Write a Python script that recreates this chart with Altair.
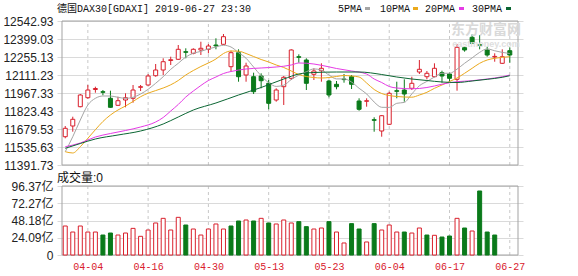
import altair as alt
import pandas as pd

# ---------------- data ----------------
dates = ["04-01", "04-02", "04-03", "04-04", "04-05", "04-08", "04-09", "04-10", "04-11", "04-12",
         "04-15", "04-16", "04-17", "04-18", "04-23", "04-24", "04-25", "04-26", "04-29", "04-30",
         "05-02", "05-03", "05-06", "05-07", "05-08", "05-09", "05-10", "05-13", "05-14", "05-15",
         "05-16", "05-17", "05-20", "05-21", "05-22", "05-23", "05-24", "05-27", "05-28", "05-29",
         "05-30", "05-31", "06-03", "06-04", "06-05", "06-06", "06-07", "06-11", "06-12", "06-13",
         "06-14", "06-17", "06-18", "06-19", "06-20", "06-21", "06-24", "06-25", "06-26", "06-27"]

open_ = [11618.0, 11703.5, 11857.8, 11929.7, 11995.3, 11977.7, 11924.9, 11869.0, 11911.3, 11924.9,
         12012.9, 12031.3, 12105.6, 12151.2, 12227.1, 12236.7, 12297.5, 12284.7, 12311.1, 12316.7,
         12351.0, 12356.6, 12177.6, 12289.5, 12111.2, 12097.6, 12103.2, 12044.9, 11911.3, 12017.7,
         12084.8, 12257.5, 12231.1, 12116.8, 12145.6, 12063.2, 12036.9, 12079.2, 12097.6, 11903.4,
         11901.0, 11753.9, 11663.5, 11717.1, 11985.7, 11991.3, 12004.9, 12135.2, 12097.6, 12097.6,
         12129.6, 12119.2, 12076.8, 12329.5, 12412.6, 12353.4, 12311.1, 12255.1, 12204.7, 12305.5]
high_ = [11703.5, 11777.8, 11959.3, 12031.3, 12017.7, 11991.3, 11985.7, 11937.7, 11964.9, 12031.3,
         12031.3, 12119.2, 12199.1, 12244.7, 12257.5, 12351.0, 12324.7, 12324.7, 12377.4, 12359.0,
         12404.6, 12439.0, 12305.5, 12316.7, 12209.5, 12129.6, 12124.8, 12071.2, 12004.9, 12103.2,
         12316.7, 12276.7, 12244.7, 12164.8, 12204.7, 12071.2, 12063.2, 12119.2, 12111.2, 11924.9,
         11924.9, 11773.0, 11791.4, 11977.7, 12057.6, 12076.8, 12097.6, 12231.1, 12143.2, 12204.7,
         12145.6, 12129.6, 12359.0, 12343.0, 12436.6, 12431.0, 12337.5, 12284.7, 12316.7, 12332.6]
low_ = [11605.2, 11657.9, 11853.0, 11921.7, 11969.7, 11948.9, 11850.0, 11863.4, 11853.0, 11889.8,
        11983.3, 12025.7, 12097.6, 12111.2, 12191.2, 12231.1, 12244.7, 12276.7, 12271.1, 12284.7,
        12316.7, 12351.0, 12137.6, 12057.6, 12057.6, 11959.3, 12004.9, 11837.0, 11897.8, 11871.4,
        12071.2, 12209.5, 11991.3, 12071.2, 12057.6, 11932.9, 11996.9, 12049.7, 11999.3, 11825.8,
        11857.8, 11657.9, 11618.0, 11711.5, 11924.9, 11897.8, 11991.3, 12119.2, 12076.8, 12092.8,
        12049.7, 12057.6, 11985.7, 12297.5, 12359.0, 12316.7, 12257.5, 12217.5, 12199.1, 12209.5]
close_ = [11685.1, 11757.1, 11951.3, 11991.3, 12003.3, 11972.9, 11853.0, 11905.7, 11929.7, 11991.3,
          12017.7, 12103.2, 12151.2, 12217.5, 12233.5, 12316.7, 12292.7, 12316.7, 12324.7, 12343.0,
          12344.0, 12417.4, 12289.5, 12097.6, 12183.2, 11977.7, 12065.6, 11885.0, 11991.3, 12092.8,
          12311.1, 12252.7, 12044.9, 12143.2, 12164.8, 11951.3, 12017.7, 12074.4, 12036.9, 11837.0,
          11905.7, 11749.1, 11785.8, 11964.9, 11980.9, 11959.3, 12044.9, 12156.8, 12124.8, 12164.8,
          12103.2, 12084.8, 12332.6, 12311.1, 12364.6, 12348.6, 12271.1, 12259.9, 12257.5, 12271.1]

# turnover in 亿 (no figures for the last two sessions)
volume = [40.5, 32.1, 40.5, 32.1, 32.1, 27.9, 30.7, 27.9, 30.7, 37.2,
          26.1, 34.9, 44.7, 51.2, 34.9, 52.6, 41.9, 36.3, 27.9, 36.3,
          43.3, 36.3, 40.5, 47.5, 48.9, 47.5, 51.2, 44.7, 43.3, 48.9,
          44.7, 46.6, 39.6, 36.3, 37.7, 46.6, 32.1, 16.8, 43.8, 36.3,
          18.2, 43.8, 34.9, 41.9, 32.1, 32.1, 30.7, 37.7, 27.9, 27.5,
          25.1, 26.5, 51.2, 37.7, 33.5, 89.4, 32.1, 27.9]

ma5_idx = list(range(60))
ma5 = [11498.0, 11618.0, 11751.5, 11871.4, 11924.9, 11943.3, 11943.3, 11932.9, 11924.9, 11932.9,
       11959.3, 11996.9, 12044.9, 12097.6, 12156.8, 12204.7, 12255.1, 12285.0, 12300.0, 12320.0,
       12335.0, 12349.0, 12335.0, 12290.0, 12245.0, 12175.0, 12105.0, 12050.0, 12020.0, 12030.0,
       12075.0, 12110.0, 12137.0, 12160.0, 12150.0, 12111.0, 12080.0, 12080.0, 12055.0, 12005.0,
       11960.0, 11895.0, 11853.0, 11852.0, 11885.0, 11892.0, 11960.0, 12025.0, 12060.0, 12095.0,
       12125.0, 12125.0, 12158.0, 12205.0, 12248.0, 12292.0, 12320.0, 12305.0, 12292.0, 12283.0]
ma10_idx = list(range(60))
ma10 = [11498.0, 11487.7, 11538.0, 11605.2, 11673.9, 11739.5, 11791.4, 11831.4, 11863.4, 11899.4,
        11937.7, 11965.7, 11986.5, 12007.3, 12032.9, 12067.2, 12111.2, 12147.2, 12179.2, 12207.2,
        12239.1, 12283.1, 12303.1, 12301.5, 12283.1, 12259.1, 12235.1, 12215.2, 12191.2, 12171.2,
        12143.2, 12115.2, 12099.2, 12091.2, 12087.2, 12091.2, 12099.2, 12107.2, 12103.2, 12095.2,
        12047.3, 11995.3, 11963.3, 11947.4, 11939.4, 11935.3, 11933.7, 11951.3, 11972.9, 12004.9,
        12031.3, 12059.3, 12087.2, 12124.8, 12164.8, 12204.7, 12231.1, 12244.7, 12252.7, 12257.5]
ma20_idx = [0, 2, 4, 6, 8, 10, 12, 13, 14, 15, 16, 17, 18, 19, 20, 21, 22, 24, 26, 28,
            30, 31, 32, 34, 36, 38, 40, 41, 42, 43, 44, 46, 48, 49, 50, 52, 54, 56, 58, 59]
ma20 = [11538.0, 11567.6, 11615.6, 11643.5, 11667.5, 11695.5, 11735.5, 11771.4, 11823.4, 11875.4,
        11935.3, 11983.3, 12027.3, 12067.2, 12095.2, 12123.2, 12139.2, 12159.2, 12167.2, 12175.2,
        12191.2, 12207.2, 12205.6, 12188.8, 12163.2, 12143.2, 12119.2, 12079.2, 12051.3, 12019.3,
        12007.3, 12000.9, 12011.3, 12023.3, 12037.7, 12057.6, 12065.6, 12079.2, 12097.6, 12111.2]
ma30_idx = [0, 2, 4, 7, 10, 13, 15, 17, 20, 23, 26, 29, 31, 33, 36, 39, 42, 44, 46, 48,
            50, 52, 54, 56, 58, 59]
ma30 = [11525.2, 11563.6, 11599.6, 11631.5, 11663.5, 11719.5, 11775.4, 11831.4, 11887.4, 11951.3,
        12011.3, 12079.2, 12119.2, 12131.2, 12135.2, 12135.2, 12115.2, 12095.2, 12079.2, 12067.2,
        12055.3, 12051.3, 12063.3, 12076.8, 12092.8, 12105.6]

price_ticks = [11391.73, 11535.63, 11679.53, 11823.43, 11967.33, 12111.23, 12255.13, 12399.03, 12542.93]
vol_ticks = [0, 24.09, 48.18, 72.27, 96.37]
tick_dates = ["04-04", "04-16", "04-30", "05-13", "05-23", "06-04", "06-17", "06-27"]

# ---------------- styling ----------------
RED = "#d9202c"
GREEN = "#0a7a1a"
GRID = "#dadada"
BORDER = "#a3a3a3"
VGRID = "#c8c8c8"
MA_NAMES = ["5PMA", "10PMA", "20PMA", "30PMA"]
MA_COLORS = ["#a5a5a5", "#eba91c", "#e53be5", "#0b6633"]
MONO = "Liberation Mono, Noto Sans CJK SC"
SANS = "Liberation Sans, Noto Sans CJK SC"

W, H = 466, 234          # plot area holding both panels
PRICE_H = 144            # price panel occupies rows 0..144
VOL_TOP, VOL_BOT = 165, 234

n = len(dates)
X_LO, X_HI = -0.43, n + 0.09

# ---------------- tables ----------------
bars = pd.DataFrame({"i": range(n), "date": dates, "open": open_, "high": high_,
                     "low": low_, "close": close_})
bars["dir"] = ["up" if c >= o else "down" for o, c in zip(open_, close_)]

vol = pd.DataFrame({"i": range(len(volume)), "vol": volume, "base": 0.0})
prev_close = [close_[0]] + close_[:-1]
vol["dir"] = ["up" if close_[k] >= prev_close[k] else "down" for k in range(len(volume))]

ma_rows = []
for name, idx, vals in zip(MA_NAMES, [ma5_idx, ma10_idx, ma20_idx, ma30_idx], [ma5, ma10, ma20, ma30]):
    for k, v in zip(idx, vals):
        ma_rows.append({"i": k, "value": v, "ma": name})
ma = pd.DataFrame(ma_rows)

tick_pos = [dates.index(d) for d in tick_dates]
grid_v = pd.DataFrame({"i": tick_pos, "p0": price_ticks[0], "p1": price_ticks[-1],
                       "v0": 0.0, "v1": vol_ticks[-1]})
frame = pd.DataFrame({"x0": [X_LO], "x1": [X_HI], "p0": [price_ticks[0]], "p1": [price_ticks[-1]],
                      "v0": [0.0], "v1": [vol_ticks[-1]]})

# ---------------- scales & axes ----------------
x_scale = alt.Scale(domain=[X_LO, X_HI], nice=False, zero=False)
price_scale = alt.Scale(domain=[price_ticks[0], price_ticks[-1]], range=[PRICE_H, 0], nice=False, zero=False)
vol_scale = alt.Scale(domain=[0, vol_ticks[-1]], range=[VOL_BOT, VOL_TOP], nice=False, zero=False)

label_expr = ("[" + ",".join(f"'{d}'" for d in tick_dates) + "][indexof(["
              + ",".join(str(p) for p in tick_pos) + "], datum.value)]")
x_axis = alt.Axis(values=tick_pos, labelExpr=label_expr, grid=False, ticks=False, tickSize=0,
                  domain=False, labelColor=RED, labelFont=MONO, labelFontSize=10, labelPadding=6,
                  labelFlush=False, labelOverlap=False, labelBound=False, title=None)
price_axis = alt.Axis(values=price_ticks, format=".2f", orient="left", grid=True, gridColor=GRID,
                      ticks=False, tickSize=0, domain=False, labelFont=SANS, labelFontSize=12,
                      labelColor="#222222", labelPadding=4, labelOverlap=False, labelFlush=False,
                      title=None)
vol_axis = alt.Axis(values=vol_ticks, orient="left", grid=True, gridColor=GRID,
                    labelExpr="datum.value == 0 ? '0' : format(datum.value, '.2f') + '亿'",
                    ticks=False, tickSize=0, domain=False, labelFont=SANS, labelFontSize=12,
                    labelColor="#222222", labelPadding=4, labelOverlap=False, labelFlush=False,
                    title=None)

X = lambda f: alt.X(f, scale=x_scale, axis=x_axis)
YP = lambda f: alt.Y(f, scale=price_scale, axis=price_axis)
YV = lambda f: alt.Y(f, scale=vol_scale, axis=vol_axis)
dir_stroke = alt.Stroke("dir:N", scale=alt.Scale(domain=["up", "down"], range=[RED, GREEN]), legend=None)
dir_fill = alt.Fill("dir:N", scale=alt.Scale(domain=["up", "down"], range=["#ffffff", GREEN]), legend=None)

# ---------------- price panel ----------------
p_vgrid = alt.Chart(grid_v).mark_rule(color=VGRID, strokeDash=[3, 3], strokeWidth=1).encode(
    x=X("i:Q"), y=YP("p0:Q"), y2="p1:Q")
p_frame = alt.Chart(frame).mark_rect(fillOpacity=0, stroke=BORDER, strokeWidth=1).encode(
    x=X("x0:Q"), x2="x1:Q", y=YP("p0:Q"), y2="p1:Q")
wicks = alt.Chart(bars).mark_rule(strokeWidth=1).encode(
    x=X("i:Q"), y=YP("low:Q"), y2="high:Q", stroke=dir_stroke)
bodies = alt.Chart(bars).mark_bar(size=4, strokeWidth=1).encode(
    x=X("i:Q"), y=YP("open:Q"), y2="close:Q", fill=dir_fill, stroke=dir_stroke)
lines = alt.Chart(ma).mark_line(strokeWidth=1, interpolate="monotone").encode(
    x=X("i:Q"), y=YP("value:Q"),
    color=alt.Color("ma:N", scale=alt.Scale(domain=MA_NAMES, range=MA_COLORS), legend=None),
    order=alt.Order("i:Q"))
price_panel = alt.layer(p_vgrid, p_frame, wicks, bodies, lines)

# ---------------- volume panel ----------------
v_vgrid = alt.Chart(grid_v).mark_rule(color=VGRID, strokeDash=[3, 3], strokeWidth=1).encode(
    x=X("i:Q"), y=YV("v0:Q"), y2="v1:Q")
v_frame = alt.Chart(frame).mark_rect(fillOpacity=0, stroke=BORDER, strokeWidth=1).encode(
    x=X("x0:Q"), x2="x1:Q", y=YV("v0:Q"), y2="v1:Q")
v_bars = alt.Chart(vol).mark_bar(size=4, strokeWidth=1).encode(
    x=X("i:Q"), y=YV("vol:Q"), y2="base:Q", fill=dir_fill, stroke=dir_stroke)
vol_panel = alt.layer(v_vgrid, v_frame, v_bars)

# ---------------- headings, legend, watermark ----------------
one = alt.Data(values=[{}])


def note(text, x, y, size, font=MONO, color="#111111", align="left", weight="normal"):
    return alt.Chart(one).mark_text(text=text, align=align, baseline="middle", fontSize=size,
                                    font=font, color=color, fontWeight=weight).encode(
        x=alt.value(x), y=alt.value(y))


def swatch(x, y, color):
    return alt.Chart(one).mark_rect(color=color).encode(
        x=alt.value(x), x2=alt.value(x + 5), y=alt.value(y), y2=alt.value(y + 3))


notes = [
    note("德国DAX30[GDAXI] 2019-06-27 23:30", 0, -12.5, 10),
    note("成交量:0", 0, 156.5, 12, font=SANS),
    note("东方财富网", 429, 9, 14, font=SANS, color="#d9d9d9", align="center", weight="bold"),
    note("eastmoney.com", 429, 23, 9, font=SANS, color="#dedede", align="center", weight="bold"),
]
legend_x = [281, 323, 368, 415]
legend_sw = [308, 356, 402, 449]
for name, col, lx, sx in zip(MA_NAMES, MA_COLORS, legend_x, legend_sw):
    notes.append(note(name, lx, -12, 10))
    notes.append(swatch(sx, -14, col))

chart = alt.layer(price_panel, vol_panel, *notes).resolve_scale(
    y="independent", fill="independent", stroke="independent"
).properties(
    width=W, height=H,
    autosize=alt.AutoSizeParams(type="none"),
    padding={"left": 57, "top": 21, "right": 55, "bottom": 21},
    background="#ffffff",
).configure_view(strokeWidth=0)

chart.save("out.html", embed_options={"renderer": "svg", "actions": False})
